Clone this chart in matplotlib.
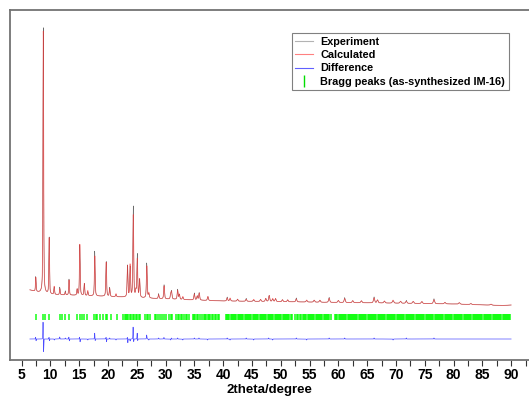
import numpy as np
import matplotlib.pyplot as plt
from matplotlib.lines import Line2D
from matplotlib.ticker import MultipleLocator

plt.rcParams['font.family'] = ['Liberation Sans', 'DejaVu Sans']
plt.rcParams['font.weight'] = 'bold'

# calculated reflections: position (deg 2theta) and height above background
peak_pos = [7.48, 8.78, 9.80, 10.67, 11.65, 12.60, 13.25, 14.65, 15.12, 15.90,
            16.50, 17.72, 19.70, 20.30, 21.40, 23.40, 23.85, 24.40, 24.85, 25.10,
            25.50, 26.75, 27.10, 28.80, 29.75, 30.90, 31.05, 32.10, 32.40, 33.00,
            35.00, 35.50, 35.85, 37.35, 40.70, 41.20, 42.50, 44.00, 45.30, 46.50,
            47.40, 48.00, 48.60, 49.10, 50.30, 51.20, 52.70, 54.50, 55.80, 56.80,
            58.40, 60.00, 61.10, 62.50, 64.00, 66.20, 66.80, 68.00, 69.50, 70.80,
            71.80, 73.00, 74.50, 76.60, 78.50, 81.00, 83.00, 86.50]
peak_height = [14, 262, 56, 8, 6, 3, 15, 6, 51, 12,
               5, 40, 34, 8, 3, 31, 32, 82, 6, 38,
               18, 32, 5, 4, 13, 5, 7, 9, 5, 3,
               6, 4, 7, 4, 3, 3, 2, 2, 2, 2,
               3, 6, 3, 3, 2, 2, 3, 2, 2, 2,
               4, 2, 4, 2, 2, 5, 3, 2, 3, 2,
               2, 2, 2, 4, 1.5, 1.5, 1, 1]

# background level read along the pattern
bg_pos = [6.45, 8.0, 10.0, 15.0, 20.0, 30.0, 40.0, 50.0, 60.0, 70.0, 80.0, 88.5, 90.0]
bg_level = [70, 67.5, 65.5, 64.5, 63.5, 61, 59, 58.3, 57.5, 56.8, 56, 54.5, 55]

# observed minus calculated features
diff_pos = [7.45, 7.52, 8.74, 8.82, 9.78, 9.84, 10.70, 11.62, 12.60, 13.22,
            13.30, 15.08, 15.16, 16.50, 17.70, 17.78, 19.68, 19.75, 20.30, 21.40,
            23.38, 23.45, 23.85, 24.37, 24.47, 25.08, 25.16, 26.72, 27.10, 28.80,
            29.72, 30.90, 31.00, 32.10, 33.00, 35.00, 35.80, 37.30, 40.70, 41.20,
            44.00, 45.30, 47.90, 48.60, 52.70, 54.50, 58.40, 61.10, 66.20, 69.50,
            71.80, 76.60]
diff_amp = [2, -2, 18, -14, 2, -2, -1, 2, 1, 2,
            -2, 2, -3, -1, 6, -2, 2, -3, 1, -1,
            2, -4, -2, 12, -3, 6, -2, 4, -1, 1,
            1.5, -1, 1, 1, -1, 1, 1, -1, 1, -1,
            1, -1, 1, -1, 1, -1, 1, 1, 1, -1,
            1, 1]

bragg_pos = [
    7.43, 8.76, 9.16, 9.80, 11.65, 12.05, 12.60, 13.26, 14.65, 15.10,
    15.47, 15.87, 16.40, 17.60, 17.85, 18.10, 18.60, 19.20, 19.60, 19.90,
    20.60, 21.60, 22.65, 22.90, 23.10, 23.35, 23.55, 23.80, 24.05, 24.35,
    24.60, 24.85, 25.10, 25.35, 25.55, 26.50, 26.75, 27.00, 27.30, 28.10,
    28.40, 28.75, 29.00, 29.40, 29.70, 30.15, 30.55, 30.90, 31.10, 31.90,
    32.15, 32.40, 32.65, 32.90, 33.20, 33.50, 33.80, 34.10, 34.70, 34.95,
    35.20, 35.45, 35.70, 35.95, 36.40, 36.60, 36.85, 37.10, 37.30, 37.55,
    37.80, 38.05, 38.30, 38.55, 38.80, 39.05, 39.30,
    40.50, 40.70, 40.88, 41.10, 41.28, 41.50, 41.70, 41.90, 42.12, 42.30,
    42.52, 42.72, 42.90, 43.12, 43.32, 43.50, 43.72, 43.92, 44.12, 44.30,
    44.52, 44.72, 44.92, 45.10, 45.32, 45.52, 45.70, 45.92, 46.12, 46.32,
    46.50, 46.72, 46.92, 47.10, 47.32, 47.52, 47.72, 47.90, 48.12, 48.32,
    48.52, 48.70, 48.92, 49.12, 49.30, 49.52, 49.72, 49.92, 50.10, 50.32,
    50.52, 50.70, 50.92, 51.12, 51.30, 51.52, 51.72, 51.90,
    52.50, 52.80, 53.05, 53.35, 53.60, 53.85,
    54.05, 54.25, 54.45, 54.65, 54.85, 55.05, 55.25, 55.45, 55.65, 55.85,
    56.05, 56.25, 56.45, 56.65, 56.85, 57.05, 57.25, 57.45, 57.65, 57.85,
    58.05, 58.25, 58.45, 58.65,
    59.45, 59.65, 59.85, 60.05, 60.22, 60.42, 60.62, 60.82, 61.00, 61.20,
    61.40, 61.60, 61.78, 61.98, 62.18, 62.38, 62.55, 62.75, 62.95, 63.15,
    63.32, 63.52, 63.72, 63.92, 64.10, 64.30, 64.50, 64.70, 64.88, 65.08,
    65.28, 65.48, 65.65, 65.85, 66.05, 66.25, 66.42, 66.62, 66.82, 67.02,
    67.20, 67.40, 67.60, 67.80, 67.98, 68.18, 68.38, 68.58, 68.75, 68.95,
    69.15, 69.35, 69.52, 69.72, 69.92, 70.12, 70.30, 70.50, 70.70, 70.90,
    71.08, 71.28, 71.48, 71.68, 71.85, 72.05, 72.25, 72.45, 72.62, 72.82,
    73.02, 73.22, 73.40, 73.60, 73.80, 74.00, 74.18, 74.38, 74.58, 74.78,
    74.95, 75.15, 75.35, 75.55, 75.72, 75.92, 76.12, 76.32, 76.50, 76.70,
    76.90, 77.10, 77.28, 77.48, 77.68, 77.88, 78.05, 78.25, 78.45, 78.65,
    78.82, 79.02, 79.22, 79.42, 79.60, 79.80, 80.00, 80.20, 80.38, 80.58,
    80.78, 80.98, 81.15, 81.35, 81.55, 81.75, 81.92, 82.12, 82.32, 82.52,
    82.70, 82.90, 83.10, 83.30, 83.48, 83.68, 83.88, 84.08, 84.25, 84.45,
    84.65, 84.85, 85.02, 85.22, 85.42, 85.62, 85.80, 86.00, 86.20, 86.40,
    86.58, 86.78, 86.98, 87.18, 87.35, 87.55, 87.75, 87.95, 88.12, 88.32,
    88.52, 88.72, 88.90, 89.10, 89.30, 89.50, 89.68, 89.88]

diff_offset = 21
bragg_lo, bragg_hi = 40, 46.5


def pseudo_voigt(x, pos, h, fwhm, eta=0.5):
    g = np.exp(-4 * np.log(2) * ((x - pos) / fwhm) ** 2)
    l = 1.0 / (1 + 4 * ((x - pos) / fwhm) ** 2)
    return h * (eta * l + (1 - eta) * g)


tt = np.arange(6.45, 90.0, 0.005)
calc = np.interp(tt, bg_pos, bg_level)
for p, h in zip(peak_pos, peak_height):
    calc += pseudo_voigt(tt, p, h, 0.12 + 0.002 * p)
diff = np.zeros_like(tt)
for p, a in zip(diff_pos, diff_amp):
    diff += pseudo_voigt(tt, p, a, 0.08, eta=0.2)
obs = calc + diff

fig = plt.figure(figsize=(5.29, 3.99), dpi=100)
ax = fig.add_axes([10 / 529, 39 / 399, 519 / 529, 350 / 399])

ax.plot(tt, obs, color='black', lw=0.3, alpha=0.7, label='Experiment')
ax.plot(tt, calc, color='#ff2a2a', lw=0.6, alpha=0.6, label='Calculated')
ax.plot(tt, diff + diff_offset, color='blue', lw=0.5, alpha=0.7, label='Difference')
ax.vlines(bragg_pos, bragg_lo, bragg_hi, color='#00ff00', lw=1.2, alpha=0.85)

ax.set_xlim(3, 93.1)
ax.set_ylim(0, 350)
ax.xaxis.set_major_locator(MultipleLocator(5))
ax.xaxis.set_minor_locator(MultipleLocator(2.5))
ax.tick_params(axis='x', which='both', direction='out', length=4, width=0.8,
               color='0.2', pad=2, labelsize=10)
ax.tick_params(axis='y', left=False, labelleft=False)
for side in ['left', 'top', 'bottom']:
    ax.spines[side].set_color('0.45')
    ax.spines[side].set_linewidth(1.3)
ax.spines['right'].set_visible(False)
ax.set_xlabel('2theta/degree', fontsize=9.5, fontweight='bold', labelpad=1)

handles = [Line2D([], [], color='0.7', lw=0.8),
           Line2D([], [], color='#ff8080', lw=0.8),
           Line2D([], [], color='#6060ff', lw=0.8),
           Line2D([], [], color='#00dd00', marker='|', ls='none', markersize=9,
                  markeredgewidth=1)]
labels = ['Experiment', 'Calculated', 'Difference', 'Bragg peaks (as-synthesized IM-16)']
leg = ax.legend(handles, labels, loc='upper right', bbox_to_anchor=(0.961, 0.934),
                borderaxespad=0, fancybox=False, framealpha=1,
                handlelength=1.6, handletextpad=0.7, labelspacing=0.3,
                borderpad=0.35, prop={'weight': 'bold', 'size': 7.8})
leg.get_frame().set_edgecolor('0.5')
leg.get_frame().set_linewidth(0.8)

fig.savefig('out.png', dpi=100)
